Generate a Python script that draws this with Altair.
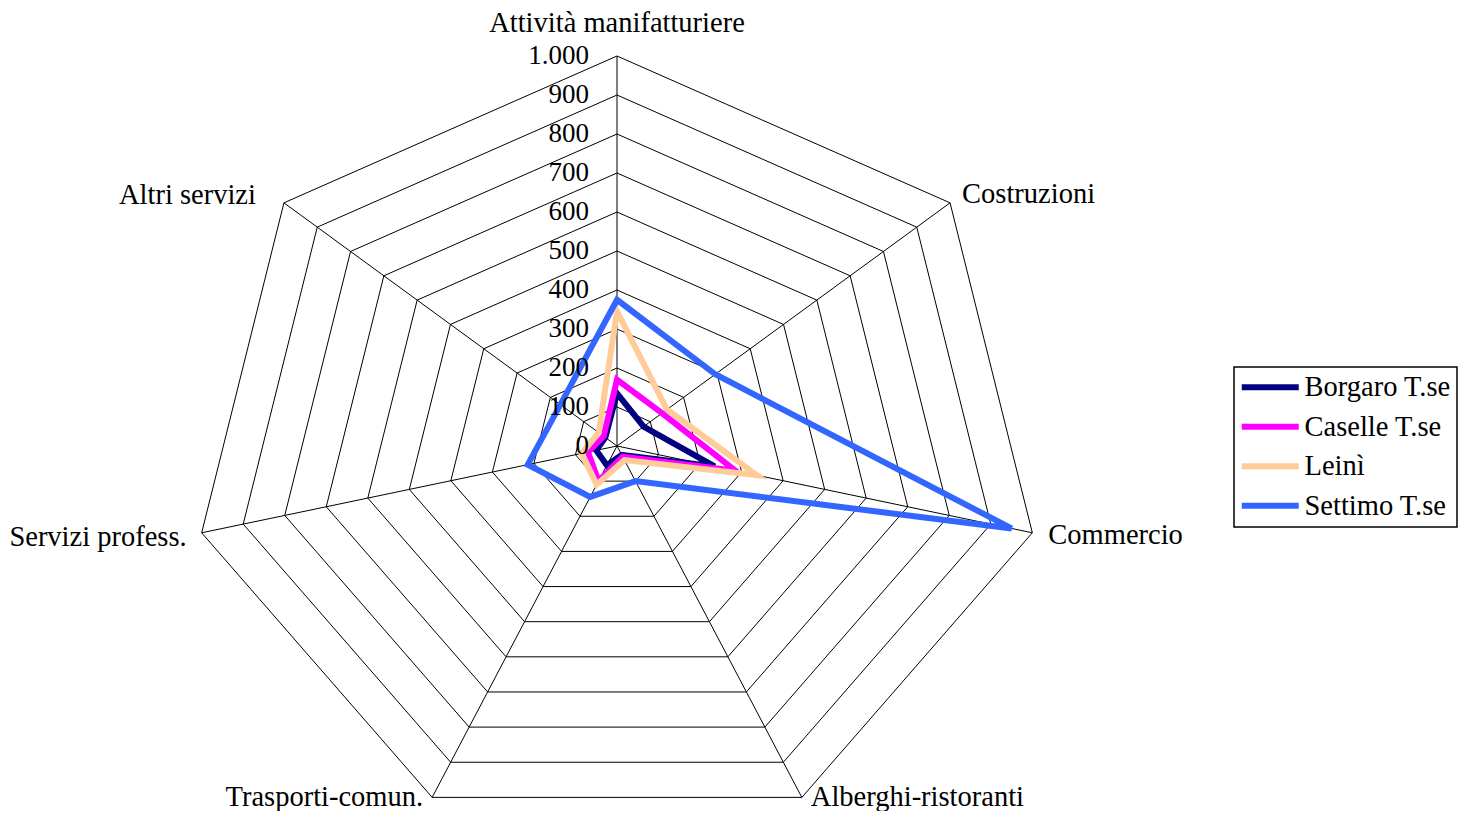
import altair as alt
import pandas as pd

categories = ["Attività manifatturiere", "Costruzioni", "Commercio",
              "Alberghi-ristoranti", "Trasporti-comun.", "Servizi profess.",
              "Altri servizi"]
series_names = ["Borgaro T.se", "Caselle T.se", "Leinì", "Settimo T.se"]
borgaro = [135, 80, 235, 25, 55, 50, 35]
caselle = [170, 135, 285, 30, 100, 70, 40]
leini = [345, 150, 337, 40, 110, 85, 55]
settimo = [375, 295, 950, 100, 145, 215, 170]
tick_values = [0, 100, 200, 300, 400, 500, 600, 700, 800, 900, 1000]
tick_labels = ["0", "100", "200", "300", "400", "500", "600", "700", "800", "900", "1.000"]
colors = ["#000080", "#FF00FF", "#FFCC99", "#3366FF"]

FONT = "Liberation Serif"
FS_TICK = 27
FS = 28.5
N = len(categories)
MAXV = tick_values[-1]

XEXPR = f"datum.v * cos(PI/2 - datum.k*2*PI/{N})"
YEXPR = f"datum.v * sin(PI/2 - datum.k*2*PI/{N})"

W, H = 1451, 803
KX, KY = 0.426, 0.39
CX, CY = 609, 438
x_scale = alt.Scale(domain=[-CX / KX, (W - CX) / KX], nice=False, zero=False)
y_scale = alt.Scale(domain=[-(H - CY) / KY, CY / KY], nice=False, zero=False)

# series data
rows = []
for name, vals in zip(series_names, [borgaro, caselle, leini, settimo]):
    for k, (c, v) in enumerate(zip(categories, vals)):
        rows.append({"serie": name, "categoria": c, "k": k, "v": v})
series_df = pd.DataFrame(rows)

# grid rings
ring_rows = []
for lvl in tick_values[1:]:
    for k in range(N):
        ring_rows.append({"level": lvl, "k": k, "v": lvl})
ring_df = pd.DataFrame(ring_rows)

spoke_df = pd.DataFrame({"k": list(range(N)), "v": [MAXV] * N, "z": [0] * N})
tick_df = pd.DataFrame({"v": tick_values, "label": tick_labels, "k": [0] * len(tick_values)})
cat_df = pd.DataFrame({"categoria": categories, "k": list(range(N)), "v": [MAXV] * N})

rings = alt.Chart(ring_df).mark_line(
    interpolate="linear-closed", color="black", strokeWidth=1
).transform_calculate(x=XEXPR, y=YEXPR).encode(
    x=alt.X("x:Q", scale=x_scale, axis=None),
    y=alt.Y("y:Q", scale=y_scale, axis=None),
    detail="level:N",
    order="k:Q",
)

spokes = alt.Chart(spoke_df).mark_rule(color="black", strokeWidth=1).transform_calculate(
    x=XEXPR, y=YEXPR
).encode(
    x=alt.X("z:Q", scale=x_scale, axis=None),
    y=alt.Y("z:Q", scale=y_scale, axis=None),
    x2="x:Q",
    y2="y:Q",
)

lines = alt.Chart(series_df).mark_line(
    interpolate="linear-closed", strokeWidth=6, strokeJoin="miter"
).transform_calculate(x=XEXPR, y=YEXPR).encode(
    x=alt.X("x:Q", scale=x_scale, axis=None),
    y=alt.Y("y:Q", scale=y_scale, axis=None),
    color=alt.Color("serie:N", scale=alt.Scale(domain=series_names, range=colors),
                    legend=alt.Legend(title=None)),
    order="k:Q",
)

ticks = alt.Chart(tick_df).mark_text(
    align="right", baseline="middle", dx=-28, font=FONT, fontSize=FS_TICK, color="black"
).transform_calculate(x=XEXPR, y=YEXPR).encode(
    x=alt.X("x:Q", scale=x_scale, axis=None),
    y=alt.Y("y:Q", scale=y_scale, axis=None),
    text="label:N",
)

label_style = {
    "Attività manifatturiere": ("center", 0, -33),
    "Costruzioni": ("left", 12, -9),
    "Commercio": ("left", 16, 2),
    "Alberghi-ristoranti": ("left", 9, 0),
    "Trasporti-comun.": ("right", -9, 0),
    "Servizi profess.": ("right", -15, 4),
    "Altri servizi": ("right", -28, -8),
}
cat_layers = []
for c in categories:
    al, ddx, ddy = label_style[c]
    cat_layers.append(
        alt.Chart(cat_df).transform_filter(alt.datum.categoria == c).mark_text(
            align=al, baseline="middle", dx=ddx, dy=ddy, font=FONT, fontSize=FS, color="black"
        ).transform_calculate(x=XEXPR, y=YEXPR).encode(
            x=alt.X("x:Q", scale=x_scale, axis=None),
            y=alt.Y("y:Q", scale=y_scale, axis=None),
            text="categoria:N",
        )
    )

chart = alt.layer(rings, spokes, lines, ticks, *cat_layers).properties(
    width=W, height=H, padding=0,
    autosize=alt.AutoSizeParams(type="none"),
    background="white",
).configure_view(stroke=None).configure_legend(
    orient="none", legendX=1226, legendY=359,
    strokeColor="black", strokeWidth=1.5, fillColor="white",
    padding=6, rowPadding=10.5,
    labelFont=FONT, labelFontSize=FS, labelColor="black", labelLimit=400,
    symbolType="M-3,0H3", symbolSize=361, symbolStrokeWidth=6,
    symbolOffset=16, labelOffset=20,
)

chart.save("out.html", embed_options={"renderer": "svg", "actions": False})
